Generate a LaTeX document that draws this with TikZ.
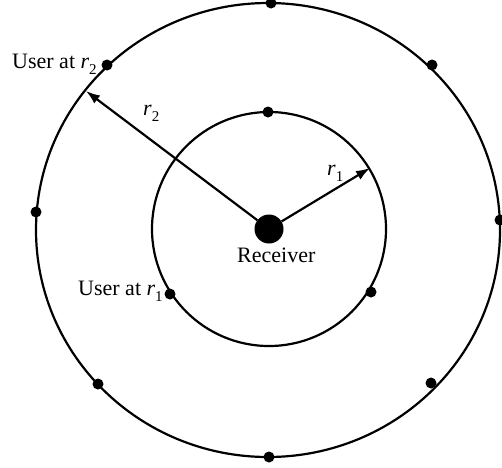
\documentclass[tikz,border=0pt]{standalone}
\usepackage{fontspec}
\setmainfont{Liberation Serif}
\usetikzlibrary{arrows.meta}
\newcommand\rsub[1]{\textit{r}\raisebox{-0.28em}{\fontsize{15pt}{15pt}\selectfont #1}}
\tikzset{
  ring/.style={line width=2.2pt, draw=black},
  dot/.style={circle, fill=black, inner sep=0pt, minimum size=11pt},
  rxdot/.style={circle, fill=black, inner sep=0pt, minimum size=29pt},
  radius arrow/.style={line width=2.2pt, -{Latex[length=14pt,width=10pt]}},
  lbl/.style={inner sep=0pt, font=\fontsize{22pt}{26pt}\selectfont}
}
\begin{document}
\begin{tikzpicture}[x=1pt,y=-1pt]
\useasboundingbox (0,0) rectangle (502,467);
% circles
\draw[ring] (268,230) ellipse [x radius=232pt, y radius=227pt];
\draw[ring] (269,229) ellipse [x radius=117pt, y radius=117pt];
% receiver
\node[rxdot] (rx) at (269,229) {};
\node[lbl, anchor=base west] (rxl) at (237,262) {Receiver};
% outer users
\node[dot] (o1) at (271,3) {};
\node[dot] (o2) at (432,65) {};
\node[dot] (o3) at (500,220) {};
\node[dot] (o4) at (431,383) {};
\node[dot] (o5) at (269,457) {};
\node[dot] (o6) at (98,384) {};
\node[dot] (o7) at (36,212) {};
\node[dot] (o8) at (107,65) {};
% inner users
\node[dot] (i1) at (268,112) {};
\node[dot] (i2) at (371,292) {};
\node[dot] (i3) at (170,294) {};
% radius arrows
\coordinate (t1) at (370,168);
\coordinate (t2) at (86,91);
\draw[radius arrow] (rx) -- (t1);
\draw[radius arrow] (rx) -- (t2);
\node[lbl, anchor=base west] (r1l) at (327,175) {\rsub{1}};
\node[lbl, anchor=base west] (r2l) at (143,115) {\rsub{2}};
% user labels
\node[lbl, anchor=base west] (u2) at (12,68) {User at \rsub{2}};
\node[lbl, anchor=base west] (u1) at (78,295) {User at \rsub{1}};
\end{tikzpicture}
\end{document}
